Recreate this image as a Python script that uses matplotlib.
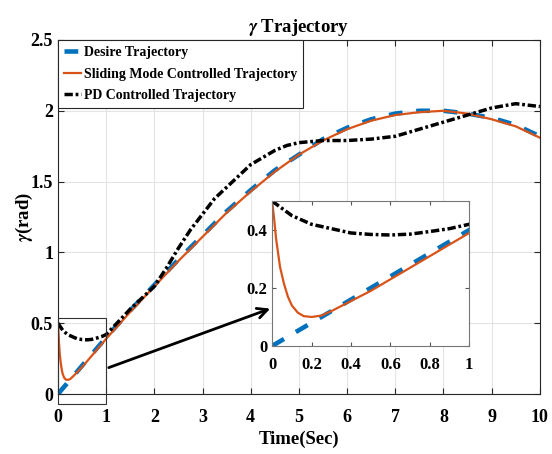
import matplotlib
matplotlib.use('Agg')
import matplotlib.pyplot as plt
from matplotlib.patches import Rectangle

plt.rcParams.update({
    'font.family': 'Liberation Serif',
    'font.weight': 'bold',
    'mathtext.fontset': 'stix',
    'axes.labelweight': 'bold',
    'axes.titleweight': 'bold',
})

# desired trajectory
t_des = [0, 0.5, 1, 1.5, 2, 2.5, 3, 3.5, 4, 4.5, 5, 5.5, 6, 6.5, 7, 7.5, 8, 8.5, 9, 9.5, 10]
y_des = [0, 0.2, 0.4, 0.59, 0.77, 0.95, 1.12, 1.29, 1.44, 1.58, 1.69, 1.80, 1.88, 1.94,
         1.98, 2.0, 2.0, 1.98, 1.95, 1.90, 1.82]

# sliding mode controller
t_smc = [0, 0.01, 0.02, 0.04, 0.06, 0.08, 0.1, 0.13, 0.16, 0.2, 0.25, 0.3, 0.4, 0.5, 0.6,
         0.7, 0.8, 0.9, 1.0, 1.5, 2, 2.5, 3, 3.5, 4, 4.5, 5, 5.5, 6, 6.5, 7, 7.5, 8, 8.5,
         9, 9.5, 10]
y_smc = [0.5, 0.44, 0.37, 0.273, 0.215, 0.17, 0.14, 0.115, 0.103, 0.10, 0.105, 0.12, 0.155,
         0.19, 0.23, 0.27, 0.31, 0.35, 0.39, 0.58, 0.76, 0.94, 1.11, 1.28, 1.43, 1.57, 1.69,
         1.79, 1.87, 1.93, 1.97, 1.99, 2.0, 1.98, 1.94, 1.89, 1.81]

# PD controller
t_pd = [0, 0.1, 0.2, 0.3, 0.4, 0.5, 0.6, 0.7, 0.8, 0.9, 1.0, 1.5, 2, 2.25, 2.5, 2.75, 3,
        3.25, 3.5, 3.75, 4, 4.25, 4.5, 4.75, 5, 5.5, 6, 6.5, 7, 7.5, 8, 8.5, 9, 9.5, 10]
y_pd = [0.5, 0.45, 0.42, 0.405, 0.39, 0.385, 0.383, 0.386, 0.395, 0.405, 0.42, 0.60, 0.76,
        0.89, 1.03, 1.16, 1.27, 1.38, 1.46, 1.54, 1.62, 1.67, 1.72, 1.755, 1.775, 1.79,
        1.79, 1.80, 1.82, 1.87, 1.92, 1.97, 2.02, 2.05, 2.03]

blue = '#0072BD'
orange = '#D95319'


def draw_curves(a):
    a.plot(t_des, y_des, color=blue, lw=3.3, dashes=(3, 3), label='Desire Trajectory')
    a.plot(t_smc, y_smc, color=orange, lw=1.6, label='Sliding Mode Controlled Trajectory')
    a.plot(t_pd, y_pd, color='black', lw=2.5, dashes=(2.4, 0.8, 0.8, 0.8),
           label='PD Controlled Trajectory')


fig = plt.figure(figsize=(5.52, 4.54), dpi=100)
ax = fig.add_axes([0.105, 0.132, 0.873, 0.78])
draw_curves(ax)
ax.set_xlim(0, 10)
ax.set_ylim(0, 2.5)
ax.set_xticks(range(0, 11))
ax.set_yticks([0, 0.5, 1, 1.5, 2, 2.5])
ax.set_yticklabels(['0', '0.5', '1', '1.5', '2', '2.5'])
ax.grid(True, color='#e3e3e3', lw=0.8)
ax.tick_params(direction='in', top=True, right=True, labelsize=13, length=4, color='#262626')
ax.tick_params(axis='x', pad=11)
for s in ax.spines.values():
    s.set_color('#262626')
    s.set_linewidth(0.8)
ax.set_title(r'$\gamma$ Trajectory', fontsize=13.5, pad=6)
ax.set_xlabel('Time(Sec)', fontsize=13.5, labelpad=3)
ax.set_ylabel(r'$\gamma$(rad)', fontsize=13.5, labelpad=-3)

leg = ax.legend(loc='upper left', borderaxespad=0, fontsize=10, handlelength=1.2,
                handletextpad=0.2, labelspacing=0.6, borderpad=0.45, fancybox=False,
                framealpha=1, edgecolor='#262626')
leg.get_frame().set_linewidth(0.8)

# zoom box and arrow
ax.add_patch(Rectangle((0, -0.07), 1, 0.61, fill=False, ec='#333333', lw=0.8,
                       clip_on=False, zorder=5))
ax.annotate('', xy=(4.46, 0.61), xytext=(1.0, 0.18),
            arrowprops=dict(arrowstyle='->', lw=2, color='black', mutation_scale=18))

# inset
ins = fig.add_axes([0.493, 0.238, 0.357, 0.319])
draw_curves(ins)
ins.set_xlim(0, 1)
ins.set_ylim(0, 0.5)
ins.set_xticks([0, 0.2, 0.4, 0.6, 0.8, 1])
ins.set_xticklabels(['0', '0.2', '0.4', '0.6', '0.8', '1'])
ins.set_yticks([0, 0.2, 0.4])
ins.set_yticklabels(['0', '0.2', '0.4'])
ins.tick_params(direction='in', top=True, right=True, labelsize=12, length=3, color='#555555')
ins.tick_params(axis='x', pad=8)
for s in ins.spines.values():
    s.set_color('#777777')
    s.set_linewidth(0.8)

fig.savefig('out.png', dpi=100)
